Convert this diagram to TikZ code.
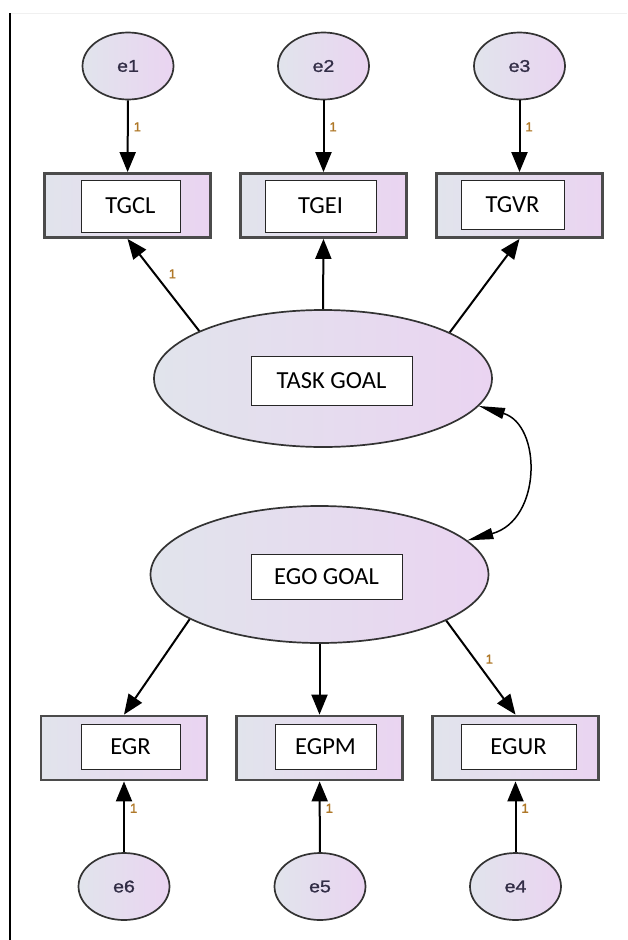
\documentclass[tikz,border=0pt]{standalone}
\usepackage{fontspec}
\usetikzlibrary{shapes.geometric,arrows.meta}
\newfontfamily\calfont{Carlito}
\newfontfamily\arialfont[FakeStretch=1.15,FakeBold=1.2]{Liberation Sans}
\newfontfamily\onefont[FakeBold=1.5]{Liberation Sans}
\definecolor{shadeL}{RGB}{225,228,236}
\definecolor{shadeR}{RGB}{234,212,241}
\definecolor{bordgray}{RGB}{75,75,75}
\definecolor{onecol}{RGB}{175,120,40}
\definecolor{etext}{RGB}{50,45,70}
\begin{document}
\begin{tikzpicture}[x=1pt,y=-1pt,
  errv/.style={ellipse, draw=black!80, line width=1.7pt, left color=shadeL, right color=shadeR,
    minimum width=91pt, minimum height=67pt, inner sep=0pt, text=etext,
    font=\arialfont\fontsize{17}{17}\selectfont},
  obsv/.style={rectangle, draw=bordgray, line width=2.8pt, left color=shadeL, right color=shadeR,
    minimum width=166pt, minimum height=64pt, inner sep=0pt},
  latv/.style={ellipse, draw=black!80, line width=1.7pt, left color=shadeL, right color=shadeR,
    minimum width=338pt, minimum height=137pt, inner sep=0pt},
  lbox/.style={rectangle, draw=black!85, line width=1pt, fill=white, inner sep=0pt,
    font=\calfont\fontsize{24.5}{24.5}\selectfont},
  arr/.style={-{Triangle[length=20pt,width=16pt]}, line width=2pt, black},
  cov/.style={{Triangle[length=26pt,width=11pt]}-{Triangle[length=26pt,width=11pt]}, line width=1.5pt, black},
  one/.style={font=\onefont\fontsize{13}{13}\selectfont, text=onecol, inner sep=0pt}
]
\useasboundingbox (0,0) rectangle (627,940);
\draw[black!6, line width=0.8pt] (11,13) -- (627,13);
\draw[line width=2pt] (10,13) -- (10,940);

% error terms (top)
\node[errv] (e1) at (128,66) {e1};
\node[errv] (e2) at (323.5,66) {e2};
\node[errv] (e3) at (519.5,66) {e3};

% observed (top)
\node[obsv] (tgcl) at (127.5,205.5) {};
\node[obsv] (tgei) at (323.5,205.5) {};
\node[obsv] (tgvr) at (519.5,205.5) {};
\node[lbox, minimum width=99pt, minimum height=52pt] (tgcl-l) at (130.5,206) {TGCL};
\node[lbox, minimum width=111pt, minimum height=52pt] (tgei-l) at (320.5,206) {TGEI};
\node[lbox, minimum width=103pt, minimum height=49pt] (tgvr-l) at (512.5,204.5) {TGVR};

% latent
\node[latv] (task) at (323,378.5) {};
\node[lbox, minimum width=161pt, minimum height=49pt] (task-l) at (331.5,380.5) {TASK GOAL};
\node[latv] (ego) at (319.5,574.5) {};
\node[lbox, minimum width=151pt, minimum height=45pt] (ego-l) at (326.5,576.5) {EGO GOAL};

% observed (bottom)
\node[obsv] (egr) at (124,748) {};
\node[obsv] (egpm) at (319.5,748) {};
\node[obsv] (egur) at (515.5,748) {};
\node[lbox, minimum width=99pt, minimum height=45pt] (egr-l) at (130.5,746.5) {EGR};
\node[lbox, minimum width=101pt, minimum height=45pt] (egpm-l) at (325.5,746.5) {EGPM};
\node[lbox, minimum width=115pt, minimum height=45pt] (egur-l) at (518.5,746.5) {EGUR};

% error terms (bottom)
\node[errv] (e6) at (124,886.5) {e6};
\node[errv] (e5) at (320,886.5) {e5};
\node[errv] (e4) at (515.5,886.5) {e4};

% connectors
\draw[arr] (e1) -- node[one, pos=0.37, anchor=west, xshift=5pt]{1} (tgcl);
\draw[arr] (e2) -- node[one, pos=0.37, anchor=west, xshift=5pt]{1} (tgei);
\draw[arr] (e3) -- node[one, pos=0.37, anchor=west, xshift=5pt]{1} (tgvr);

\draw[arr] (task.159.3) -- node[one, pos=0.62, anchor=west, xshift=13pt]{1} (tgcl.south);
\draw[arr] (task.north) -- (tgei.south);
\draw[arr] (task.20.7) -- (tgvr.south);

\draw[arr] (ego.199.9) -- (egr.north);
\draw[arr] (ego.south) -- (egpm.north);
\draw[arr] (ego.340.1) -- node[one, pos=0.41, anchor=west, xshift=10pt]{1} (egur.north);

\draw[arr] (e6) -- node[one, pos=0.62, anchor=west, xshift=5pt]{1} (egr);
\draw[arr] (e5) -- node[one, pos=0.62, anchor=west, xshift=5pt]{1} (egpm);
\draw[arr] (e4) -- node[one, pos=0.62, anchor=west, xshift=5pt]{1} (egur);

\draw[cov] (task.-10.5) .. controls (542,425) and (542,520) .. (ego.13.4);
\end{tikzpicture}
\end{document}
